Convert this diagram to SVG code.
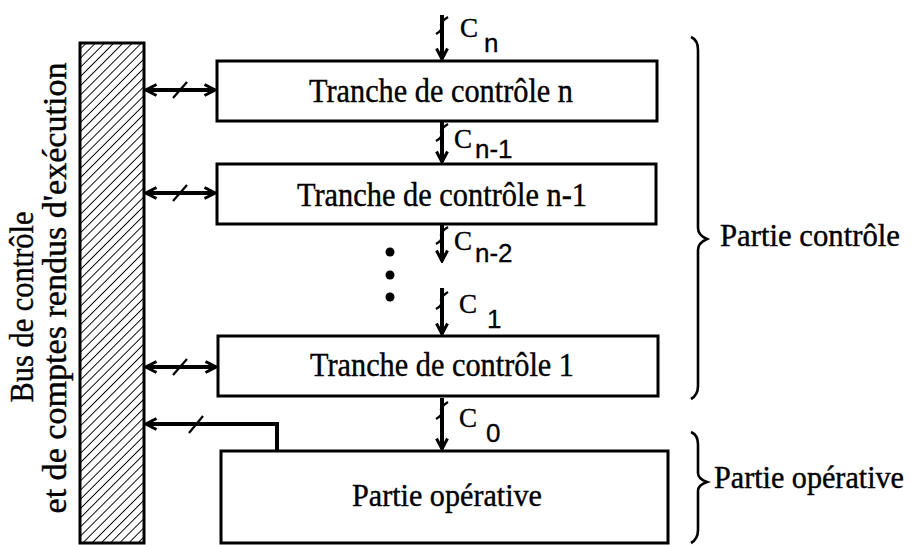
<svg xmlns="http://www.w3.org/2000/svg" width="915" height="545" viewBox="0 0 915 545">
<style>
.box{fill:#fff;stroke:#000;stroke-width:3}
.t{font-family:"Liberation Serif","Times New Roman",serif;fill:#000;stroke:#000;stroke-width:0.4}
.s{font-family:"Liberation Sans",Arial,sans-serif;fill:#000;stroke:#000;stroke-width:0.3}
.ln{stroke:#000;stroke-width:4;fill:none}
.tk{stroke:#000;stroke-width:2.2;fill:none}
.br{stroke:#000;stroke-width:2.6;fill:none}
</style>
<defs>
<pattern id="hatch" patternUnits="userSpaceOnUse" width="6.5" height="6.5" patternTransform="rotate(45)">
<line x1="0" y1="0" x2="0" y2="6.5" stroke="#000" stroke-width="1.9"/>
</pattern>
<marker id="ah" viewBox="0 0 14 14" refX="12" refY="7" markerWidth="14" markerHeight="14" markerUnits="userSpaceOnUse" orient="auto-start-reverse">
<path d="M1.5,1.5 L12,7 L1.5,12.5" fill="none" stroke="#000" stroke-width="3"/>
</marker>
</defs>

<g id="bus">
<rect x="80" y="43" width="64" height="500" fill="url(#hatch)" stroke="#000" stroke-width="3"/>
<text class="t" font-size="33" transform="translate(33,307) rotate(-90)" text-anchor="middle" textLength="191" lengthAdjust="spacingAndGlyphs">Bus de contrôle</text>
<text class="t" font-size="33" transform="translate(66,288) rotate(-90)" text-anchor="middle" textLength="451" lengthAdjust="spacingAndGlyphs">et de comptes rendus d'exécution</text>
</g>

<g id="tranche-n">
<rect class="box" x="217" y="61" width="440" height="60"/>
<text class="t" font-size="33" x="441" y="102" text-anchor="middle" textLength="264" lengthAdjust="spacingAndGlyphs">Tranche de contrôle n</text>
</g>
<g id="tranche-n-1">
<rect class="box" x="217" y="164" width="439" height="60"/>
<text class="t" font-size="33" x="442" y="206" text-anchor="middle" textLength="290" lengthAdjust="spacingAndGlyphs">Tranche de contrôle n-1</text>
</g>
<g id="tranche-1">
<rect class="box" x="218" y="336" width="440" height="60"/>
<text class="t" font-size="33" x="442" y="376" text-anchor="middle" textLength="264" lengthAdjust="spacingAndGlyphs">Tranche de contrôle 1</text>
</g>
<g id="partie-operative">
<rect class="box" x="221" y="451" width="447" height="92"/>
<text class="t" font-size="32" x="447" y="506" text-anchor="middle" textLength="190" lengthAdjust="spacingAndGlyphs">Partie opérative</text>
</g>

<g id="dots">
<circle cx="390" cy="252" r="4.5"/>
<circle cx="390" cy="275" r="4.5"/>
<circle cx="390" cy="297" r="4.5"/>
</g>

<g id="connectors">
<line class="ln" x1="146" y1="90" x2="215" y2="90" marker-start="url(#ah)" marker-end="url(#ah)"/>
<line class="tk" x1="173" y1="98" x2="187" y2="82"/>
<line class="ln" x1="146" y1="193" x2="215" y2="193" marker-start="url(#ah)" marker-end="url(#ah)"/>
<line class="tk" x1="173" y1="201" x2="187" y2="185"/>
<line class="ln" x1="146" y1="367" x2="216" y2="367" marker-start="url(#ah)" marker-end="url(#ah)"/>
<line class="tk" x1="173" y1="375" x2="187" y2="359"/>
<polyline class="ln" points="277,451 277,424 146,424" marker-end="url(#ah)"/>
<line class="tk" x1="189" y1="433" x2="203" y2="416"/>

<line class="ln" x1="442" y1="15" x2="442" y2="59" marker-end="url(#ah)"/>
<path class="tk" d="M448,17 Q440,22 441,26 Q443,30 436,34"/>
<line class="ln" x1="442" y1="122" x2="442" y2="162" marker-end="url(#ah)"/>
<path class="tk" d="M448,124 Q440,129 441,133 Q443,137 436,141"/>
<line class="ln" x1="442" y1="225" x2="442" y2="261" marker-end="url(#ah)"/>
<path class="tk" d="M448,227 Q440,232 441,236 Q443,240 436,244"/>
<line class="ln" x1="442" y1="288" x2="442" y2="334" marker-end="url(#ah)"/>
<path class="tk" d="M448,292 Q440,297 441,301 Q443,305 436,309"/>
<line class="ln" x1="442" y1="398" x2="442" y2="449" marker-end="url(#ah)"/>
<path class="tk" d="M448,402 Q440,407 441,411 Q443,415 436,419"/>
</g>

<g id="labels">
<text class="t" font-size="27" x="460" y="37">C</text>
<text class="s" font-size="26" x="484" y="52">n</text>
<text class="t" font-size="27" x="454" y="148">C</text>
<text class="s" font-size="26" x="475" y="158">n-1</text>
<text class="t" font-size="27" x="454" y="250">C</text>
<text class="s" font-size="26" x="475" y="262">n-2</text>
<text class="t" font-size="27" x="459" y="313">C</text>
<text class="s" font-size="26" x="487" y="328">1</text>
<text class="t" font-size="27" x="459" y="427">C</text>
<text class="s" font-size="26" x="486" y="442">0</text>
</g>

<g id="brace-controle">
<path class="br" d="M691,37 Q698,40 698,50 L698,228 Q698,235 707,239 Q698,243 698,250 L698,386 Q698,395 691,399"/>
<text class="t" font-size="32" x="720" y="246" textLength="180" lengthAdjust="spacingAndGlyphs">Partie contrôle</text>
</g>
<g id="brace-operative">
<path class="br" d="M691,432 Q698,435 698,444 L698,473 Q698,479 707,482 Q698,485 698,491 L698,530 Q698,539 691,543"/>
<text class="t" font-size="31" x="714" y="488" textLength="190" lengthAdjust="spacingAndGlyphs">Partie opérative</text>
</g>
</svg>
